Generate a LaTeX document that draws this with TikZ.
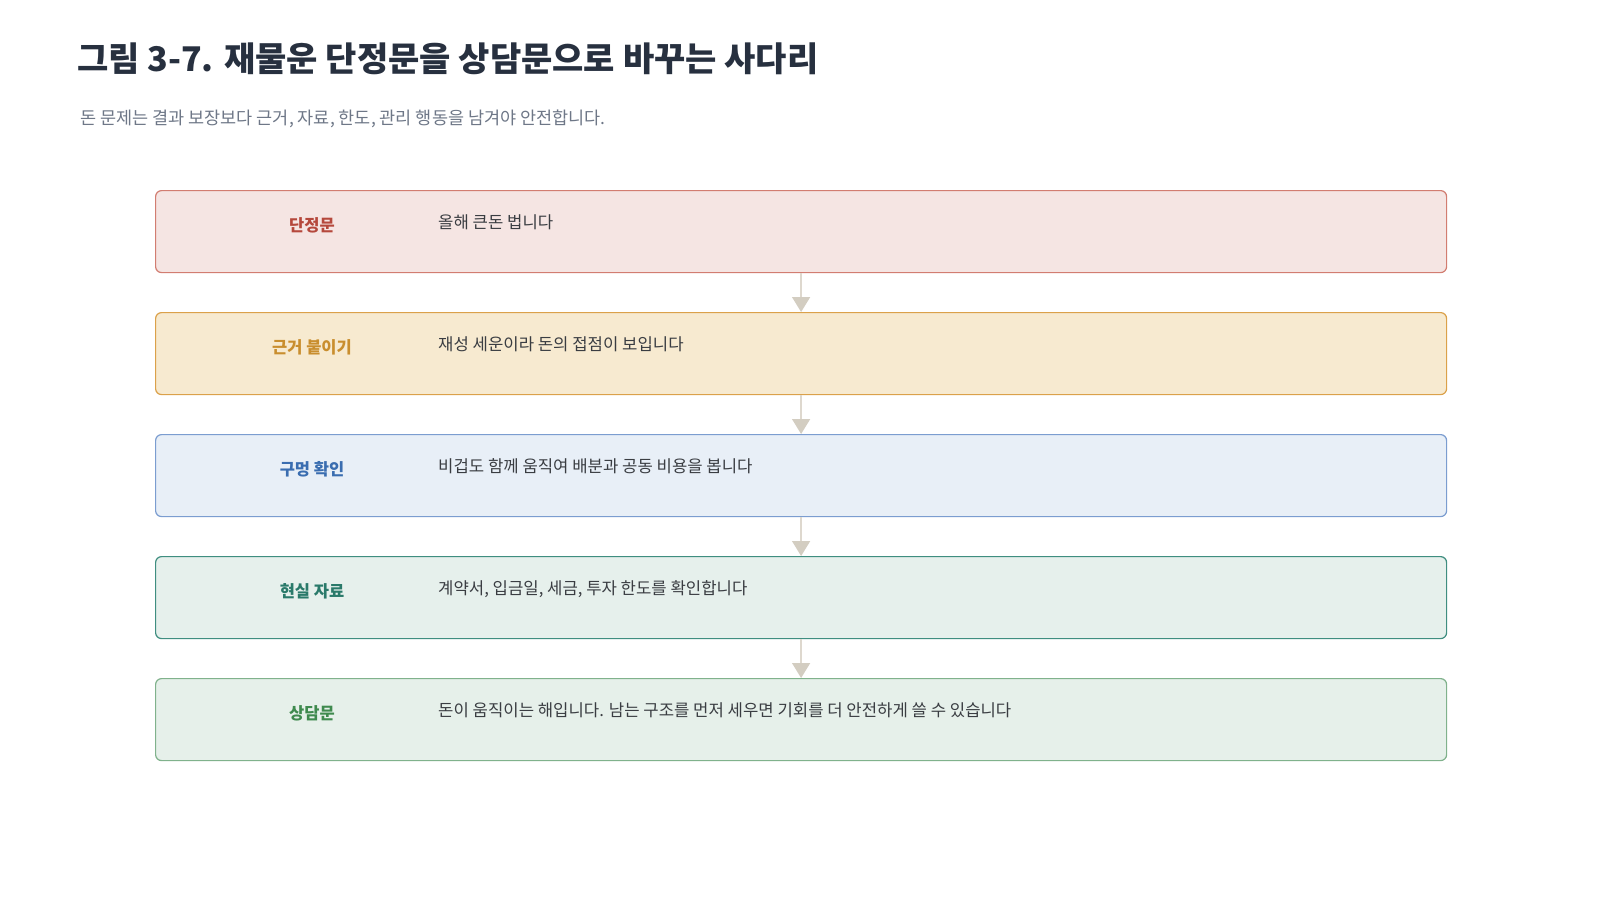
\documentclass[tikz,border=0pt]{standalone}
\usepackage{fontspec}
\setmainfont{Noto Sans CJK KR}
\usetikzlibrary{arrows.meta}
\definecolor{titlec}{HTML}{27303F}
\definecolor{subc}{HTML}{6E7787}
\definecolor{bodyc}{HTML}{3A3D42}
\definecolor{linec}{HTML}{DED8CE}
\definecolor{tipc}{HTML}{D3CDC1}
\definecolor{f1}{HTML}{F5E5E3}\definecolor{d1}{HTML}{D27D71}\definecolor{t1}{HTML}{B5483C}
\definecolor{f2}{HTML}{F7EAD0}\definecolor{d2}{HTML}{DBA14A}\definecolor{t2}{HTML}{C98E2E}
\definecolor{f3}{HTML}{E8EFF7}\definecolor{d3}{HTML}{7B9DD0}\definecolor{t3}{HTML}{3A6DB0}
\definecolor{f4}{HTML}{E6F0EC}\definecolor{d4}{HTML}{3F8E80}\definecolor{t4}{HTML}{2A7A6A}
\definecolor{f5}{HTML}{E6F0EA}\definecolor{d5}{HTML}{80B28C}\definecolor{t5}{HTML}{3F8A4E}
\tikzset{
  stagebox/.style={draw=#1, line width=1.2pt, rounded corners=6pt, minimum width=1291pt, minimum height=82pt, anchor=north west, inner sep=0pt},
  stagelabel/.style={text=#1, anchor=base, inner sep=0pt, font=\fontsize{16.5}{19}\selectfont\bfseries},
  stagebody/.style={text=bodyc, anchor=base west, inner sep=0pt, font=\fontsize{16.7}{19}\selectfont},
  flow/.style={draw=linec, line width=1.5pt, -{Triangle[width=18pt,length=15pt,color=tipc]}, shorten >=0pt}
}
\begin{document}
\begin{tikzpicture}[x=1pt,y=-1pt]
\useasboundingbox[fill=white] (0,0) rectangle (1600,900);
\node[anchor=base west, inner sep=0pt, text=titlec, font=\fontsize{34}{40}\selectfont\bfseries] (title) at (77,71.5) {그림 3-7. 재물운 단정문을 상담문으로 바꾸는 사다리};
\node[anchor=base west, inner sep=0pt, text=subc, font=\fontsize{17.5}{21}\selectfont] (subtitle) at (80,124) {돈 문제는 결과 보장보다 근거, 자료, 한도, 관리 행동을 남겨야 안전합니다.};
% boxes
\node[stagebox=d1, fill=f1] (b1) at (155,190) {};
\node[stagebox=d2, fill=f2] (b2) at (155,312) {};
\node[stagebox=d3, fill=f3] (b3) at (155,434) {};
\node[stagebox=d4, fill=f4] (b4) at (155,556) {};
\node[stagebox=d5, fill=f5] (b5) at (155,678) {};
% labels
\node[stagelabel=t1] (l1) at (312,231.5) {단정문};
\node[stagelabel=t2] (l2) at (312,353.5) {근거 붙이기};
\node[stagelabel=t3] (l3) at (312,475.5) {구멍 확인};
\node[stagelabel=t4] (l4) at (312,597.5) {현실 자료};
\node[stagelabel=t5] (l5) at (312,719.5) {상담문};
% bodies
\node[stagebody] (c1) at (438,228.5) {올해 큰돈 법니다};
\node[stagebody] (c2) at (438,350.5) {재성 세운이라 돈의 접점이 보입니다};
\node[stagebody] (c3) at (438,472.5) {비겁도 함께 움직여 배분과 공동 비용을 봅니다};
\node[stagebody] (c4) at (438,594.5) {계약서, 입금일, 세금, 투자 한도를 확인합니다};
\node[stagebody] (c5) at (438,716.5) {돈이 움직이는 해입니다. 남는 구조를 먼저 세우면 기회를 더 안전하게 쓸 수 있습니다};
% connectors
\draw[flow] (b1.south) -- (b2.north);
\draw[flow] (b2.south) -- (b3.north);
\draw[flow] (b3.south) -- (b4.north);
\draw[flow] (b4.south) -- (b5.north);
\end{tikzpicture}
\end{document}
